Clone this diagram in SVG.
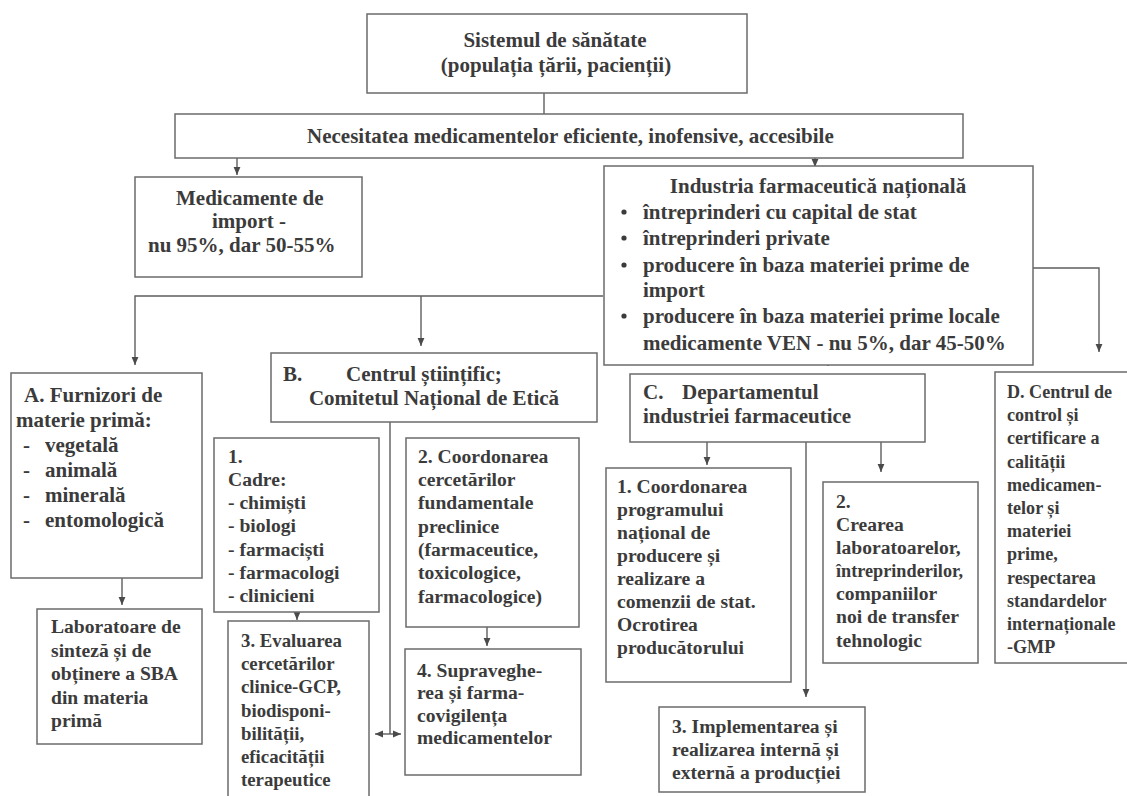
<svg xmlns="http://www.w3.org/2000/svg" width="1127" height="796" viewBox="0 0 1127 796">
  <style>
    .box { fill: #ffffff; stroke: #6b6b6b; stroke-width: 1.5; }
    .conn { fill: none; stroke: #5e5e5e; stroke-width: 1.4; }
    text { font-family: "Liberation Serif", "Times New Roman", serif; font-weight: bold; fill: #3b3b3b; }
    .f21 { font-size: 21px; }
    .f20 { font-size: 19.6px; }
    .f19 { font-size: 18.8px; }
    .f18 { font-size: 18.1px; }
    .mid { text-anchor: middle; }
  </style>
  <defs>
    <marker id="arrow" markerUnits="userSpaceOnUse" markerWidth="9" markerHeight="8" refX="8" refY="4" orient="auto-start-reverse">
      <path d="M0,0.6 L8,4 L0,7.4 z" fill="#4a4a4a"/>
    </marker>
  </defs>

  <rect x="0" y="0" width="1127" height="796" fill="#ffffff"/>

  <!-- connectors -->
  <g id="connectors">
    <line class="conn" x1="544" y1="93" x2="544" y2="114"/>
    <line class="conn" x1="237" y1="158" x2="237" y2="175" marker-end="url(#arrow)"/>
    <line class="conn" x1="815" y1="158" x2="815" y2="167" marker-end="url(#arrow)"/>
    <!-- branch to A and B -->
    <polyline class="conn" points="603,296 135,296 135,365" marker-end="url(#arrow)"/>
    <line class="conn" x1="421" y1="296" x2="421" y2="346" marker-end="url(#arrow)"/>
    <!-- branch to D -->
    <polyline class="conn" points="1033,268 1099,268 1099,352" marker-end="url(#arrow)"/>
    <!-- to C -->
    <line class="conn" x1="828" y1="355" x2="828" y2="366" marker-end="url(#arrow)"/>
    <!-- C to its sub-boxes -->
    <line class="conn" x1="707" y1="442" x2="707" y2="465" marker-end="url(#arrow)"/>
    <line class="conn" x1="806" y1="442" x2="806" y2="697" marker-end="url(#arrow)"/>
    <line class="conn" x1="881" y1="442" x2="881" y2="472" marker-end="url(#arrow)"/>
    <!-- B to 3 and 4 -->
    <line class="conn" x1="390" y1="422" x2="390" y2="734"/>
    <line class="conn" x1="375" y1="734" x2="401" y2="734" marker-start="url(#arrow)" marker-end="url(#arrow)"/>
    <!-- A to laboratories -->
    <line class="conn" x1="122" y1="578" x2="122" y2="605" marker-end="url(#arrow)"/>
    <!-- 1 to 3, 2 to 4 -->
    <line class="conn" x1="297" y1="612" x2="297" y2="620" marker-end="url(#arrow)"/>
    <line class="conn" x1="487" y1="627" x2="487" y2="646" marker-end="url(#arrow)"/>
  </g>

  <g id="sistem">
    <rect class="box" x="367" y="14" width="380" height="79"/>
    <text class="f21 mid" x="555" y="47">Sistemul de sănătate</text>
    <text class="f21 mid" x="556" y="72">(populația țării, pacienții)</text>
  </g>

  <g id="necesitatea">
    <rect class="box" x="175" y="114" width="788" height="44"/>
    <text class="f21" x="307" y="143">Necesitatea medicamentelor eficiente, inofensive, accesibile</text>
  </g>

  <g id="import">
    <rect class="box" x="135" y="177" width="227" height="100"/>
    <text class="f21" x="176" y="205">Medicamente de</text>
    <text class="f21" x="212" y="228">import -</text>
    <text class="f21" x="148" y="252">nu 95%, dar 50-55%</text>
  </g>

  <g id="industria">
    <rect class="box" x="604" y="166" width="429" height="199"/>
    <text class="f21 mid" x="818" y="193">Industria farmaceutică națională</text>
    <g fill="#3b3b3b">
      <circle cx="624" cy="212" r="2.6"/>
      <circle cx="624" cy="238" r="2.6"/>
      <circle cx="624" cy="265" r="2.6"/>
      <circle cx="624" cy="316" r="2.6"/>
    </g>
    <text class="f21" x="643" y="219">întreprinderi cu capital de stat</text>
    <text class="f21" x="643" y="245">întreprinderi private</text>
    <text class="f21" x="643" y="272">producere în baza materiei prime de</text>
    <text class="f21" x="643" y="297">import</text>
    <text class="f21" x="643" y="323">producere în baza materiei prime locale</text>
    <text class="f21" x="643" y="350">medicamente VEN - nu 5%, dar 45-50%</text>
  </g>

  <g id="furnizori">
    <rect class="box" x="11" y="373" width="191" height="205"/>
    <text class="f21" x="24" y="402">A. Furnizori de</text>
    <text class="f21" x="16" y="427">materie primă:</text>
    <text class="f21" x="23" y="452">-</text><text class="f21" x="45" y="452">vegetală</text>
    <text class="f21" x="23" y="477">-</text><text class="f21" x="45" y="477">animală</text>
    <text class="f21" x="23" y="502">-</text><text class="f21" x="45" y="502">minerală</text>
    <text class="f21" x="23" y="527">-</text><text class="f21" x="45" y="527">entomologică</text>
  </g>

  <g id="laboratoare">
    <rect class="box" x="37" y="609" width="165" height="135"/>
    <text class="f20" x="51" y="633">Laboratoare de</text>
    <text class="f20" x="51" y="657">sinteză și  de</text>
    <text class="f20" x="51" y="680">obținere a SBA</text>
    <text class="f20" x="51" y="704">din materia</text>
    <text class="f20" x="51" y="727">primă</text>
  </g>

  <g id="centrul-stiintific">
    <rect class="box" x="271" y="353" width="326" height="69"/>
    <text class="f21" x="283" y="381">B.</text>
    <text class="f21" x="346" y="381">Centrul științific;</text>
    <text class="f21 mid" x="434" y="405">Comitetul Național de Etică</text>
  </g>

  <g id="cadre">
    <rect class="box" x="214" y="438" width="165" height="174"/>
    <text class="f20" x="228" y="463">1.</text>
    <text class="f20" x="228" y="486">Cadre:</text>
    <text class="f20" x="228" y="509">- chimiști</text>
    <text class="f20" x="228" y="532">- biologi</text>
    <text class="f20" x="228" y="556">- farmaciști</text>
    <text class="f20" x="228" y="579">- farmacologi</text>
    <text class="f20" x="228" y="602">- clinicieni</text>
  </g>

  <g id="coordonarea-cercetarilor">
    <rect class="box" x="406" y="438" width="173" height="189"/>
    <text class="f20" x="418" y="463">2. Coordonarea</text>
    <text class="f20" x="418" y="486">cercetărilor</text>
    <text class="f20" x="418" y="509">fundamentale</text>
    <text class="f20" x="418" y="533">preclinice</text>
    <text class="f20" x="418" y="556">(farmaceutice,</text>
    <text class="f20" x="418" y="579">toxicologice,</text>
    <text class="f20" x="418" y="603">farmacologice)</text>
  </g>

  <g id="evaluarea">
    <rect class="box" x="228" y="621" width="141" height="190"/>
    <text class="f19" x="241" y="647">3. Evaluarea</text>
    <text class="f19" x="241" y="670">cercetărilor</text>
    <text class="f19" x="241" y="693">clinice-GCP,</text>
    <text class="f19" x="241" y="717">biodisponi-</text>
    <text class="f19" x="241" y="740">bilității,</text>
    <text class="f19" x="241" y="763">eficacității</text>
    <text class="f19" x="241" y="786">terapeutice</text>
  </g>

  <g id="supravegherea">
    <rect class="box" x="405" y="649" width="176" height="126"/>
    <text class="f20" x="417" y="677">4. Supraveghe-</text>
    <text class="f20" x="417" y="699">rea și farma-</text>
    <text class="f20" x="417" y="722">covigilența</text>
    <text class="f20" x="417" y="744">medicamentelor</text>
  </g>

  <g id="departamentul">
    <rect class="box" x="630" y="374" width="295" height="68"/>
    <text class="f21" x="643" y="399">C.</text>
    <text class="f21" x="682" y="399">Departamentul</text>
    <text class="f21" x="643" y="423">industriei farmaceutice</text>
  </g>

  <g id="programul-national">
    <rect class="box" x="606" y="468" width="185" height="214"/>
    <text class="f20" x="617" y="493">1. Coordonarea</text>
    <text class="f20" x="617" y="516">programului</text>
    <text class="f20" x="617" y="539">național de</text>
    <text class="f20" x="617" y="562">producere și</text>
    <text class="f20" x="617" y="585">realizare a</text>
    <text class="f20" x="617" y="608">comenzii de stat.</text>
    <text class="f20" x="617" y="631">Ocrotirea</text>
    <text class="f20" x="617" y="654">producătorului</text>
  </g>

  <g id="crearea-laboratoarelor">
    <rect class="box" x="823" y="482" width="155" height="181"/>
    <text class="f20" x="836" y="508">2.</text>
    <text class="f20" x="836" y="531">Crearea</text>
    <text class="f20" x="836" y="554">laboratoarelor,</text>
    <text class="f20" x="836" y="577" textLength="127" lengthAdjust="spacingAndGlyphs">întreprinderilor,</text>
    <text class="f20" x="836" y="600">companiilor</text>
    <text class="f20" x="836" y="623">noi de transfer</text>
    <text class="f20" x="836" y="647">tehnologic</text>
  </g>

  <g id="implementarea">
    <rect class="box" x="659" y="707" width="206" height="85"/>
    <text class="f20" x="672" y="733">3. Implementarea și</text>
    <text class="f20" x="672" y="756">realizarea internă și</text>
    <text class="f20" x="672" y="779">externă a producției</text>
  </g>

  <g id="centrul-control">
    <rect class="box" x="995" y="372" width="140" height="291"/>
    <text class="f18" x="1007" y="398">D. Centrul de</text>
    <text class="f18" x="1007" y="421">control și</text>
    <text class="f18" x="1007" y="444">certificare a</text>
    <text class="f18" x="1007" y="468">calității</text>
    <text class="f18" x="1007" y="491">medicamen-</text>
    <text class="f18" x="1007" y="514">telor și</text>
    <text class="f18" x="1007" y="537">materiei</text>
    <text class="f18" x="1007" y="560">prime,</text>
    <text class="f18" x="1007" y="584">respectarea</text>
    <text class="f18" x="1007" y="607">standardelor</text>
    <text class="f18" x="1007" y="630">internaționale</text>
    <text class="f18" x="1007" y="653">-GMP</text>
  </g>
</svg>
